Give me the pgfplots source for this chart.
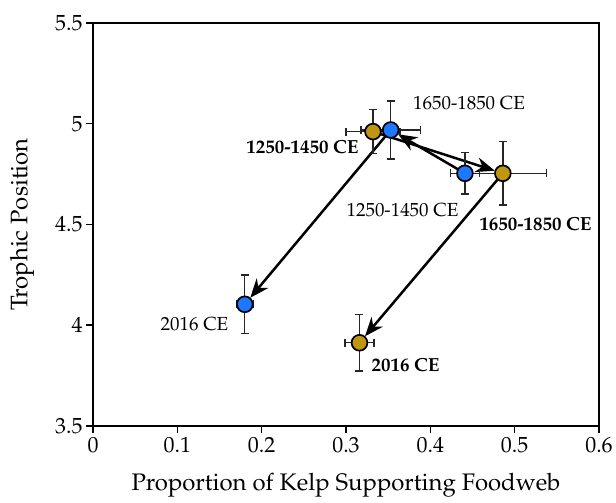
\documentclass[border=0pt]{standalone}
\usepackage[T1]{fontenc}
\usepackage{mathpazo}
\usepackage{pgfplots}
\pgfplotsset{compat=1.18}
\usetikzlibrary{arrows.meta}

\definecolor{kelpblue}{RGB}{30,120,255}
\definecolor{kelpgold}{RGB}{190,150,15}

\begin{document}
\begin{tikzpicture}
\begin{axis}[
  at={(93bp,77bp)}, anchor=south west,
  scale only axis, width=506bp, height=403bp,
  xmin=0, xmax=0.6, ymin=3.5, ymax=5.5,
  xtick={0,0.1,0.2,0.3,0.4,0.5,0.6},
  ytick={3.5,4,4.5,5,5.5},
  xtick pos=bottom, ytick pos=left,
  tick align=outside, major tick length=7bp,
  axis line style={line width=1.8bp},
  every tick/.style={line width=1.5bp, black},
  tick label style={font=\fontsize{22}{24}\selectfont},
  xticklabel style={yshift=-1bp},
  label style={font=\fontsize{24}{26}\selectfont},
  xlabel={Proportion of Kelp Supporting Foodweb},
  ylabel={Trophic Position},
  xlabel style={at={(axis description cs:0.5,-0.146)}, anchor=center},
  ylabel style={at={(axis description cs:-0.140,0.5)}, anchor=center},
  clip=false,
  arrowseg/.style={-{Stealth[length=19bp, width=15bp]}, line width=2.5bp, black, shorten >=8.5bp},
  errs/.style={only marks, mark=*, mark size=7.9bp,
    error bars/x dir=both, error bars/x explicit,
    error bars/y dir=both, error bars/y explicit,
    error bars/error bar style={line width=1.4bp, black!85},
    error bars/error mark options={rotate=90, mark size=4bp, line width=1.4bp, black!85}},
]

% trajectories through time
\addplot[arrowseg] coordinates {(0.441,4.754) (0.353,4.969)};
\addplot[arrowseg] coordinates {(0.353,4.969) (0.180,4.104)};
\addplot[arrowseg] coordinates {(0.332,4.961) (0.486,4.754)};
\addplot[arrowseg] coordinates {(0.486,4.754) (0.316,3.913)};

% gold series
\addplot[errs, mark options={fill=kelpgold, draw=black, line width=1.7bp}]
  coordinates {
    (0.332,4.961) +- (0.032,0.110)
    (0.486,4.754) +- (0.052,0.157)
    (0.316,3.913) +- (0.017,0.141)
  };

% blue series
\addplot[errs, mark options={fill=kelpblue, draw=black, line width=1.7bp}]
  coordinates {
    (0.441,4.754) +- (0.017,0.103)
    (0.353,4.969) +- (0.035,0.143)
    (0.180,4.104) +- (0.010,0.145)
  };

% period labels
\begin{scope}[every node/.style={font=\fontsize{19}{22}\selectfont, anchor=center, inner sep=0pt}]
  \node at (axis cs:0.4459,5.103) {1650-1850 CE};
  \node at (axis cs:0.367,4.572) {1250-1450 CE};
  \node at (axis cs:0.1204,4.006) {2016 CE};
  \node[font=\fontsize{19}{22}\selectfont\bfseries] at (axis cs:0.2484,4.885) {1250-1450 CE};
  \node[font=\fontsize{19}{22}\selectfont\bfseries] at (axis cs:0.5247,4.502) {1650-1850 CE};
  \node[font=\fontsize{19}{22}\selectfont\bfseries] at (axis cs:0.3706,3.803) {2016 CE};
\end{scope}
\end{axis}
\pgfresetboundingbox
\path (0,0) rectangle (616bp,503bp);
\end{tikzpicture}
\end{document}
